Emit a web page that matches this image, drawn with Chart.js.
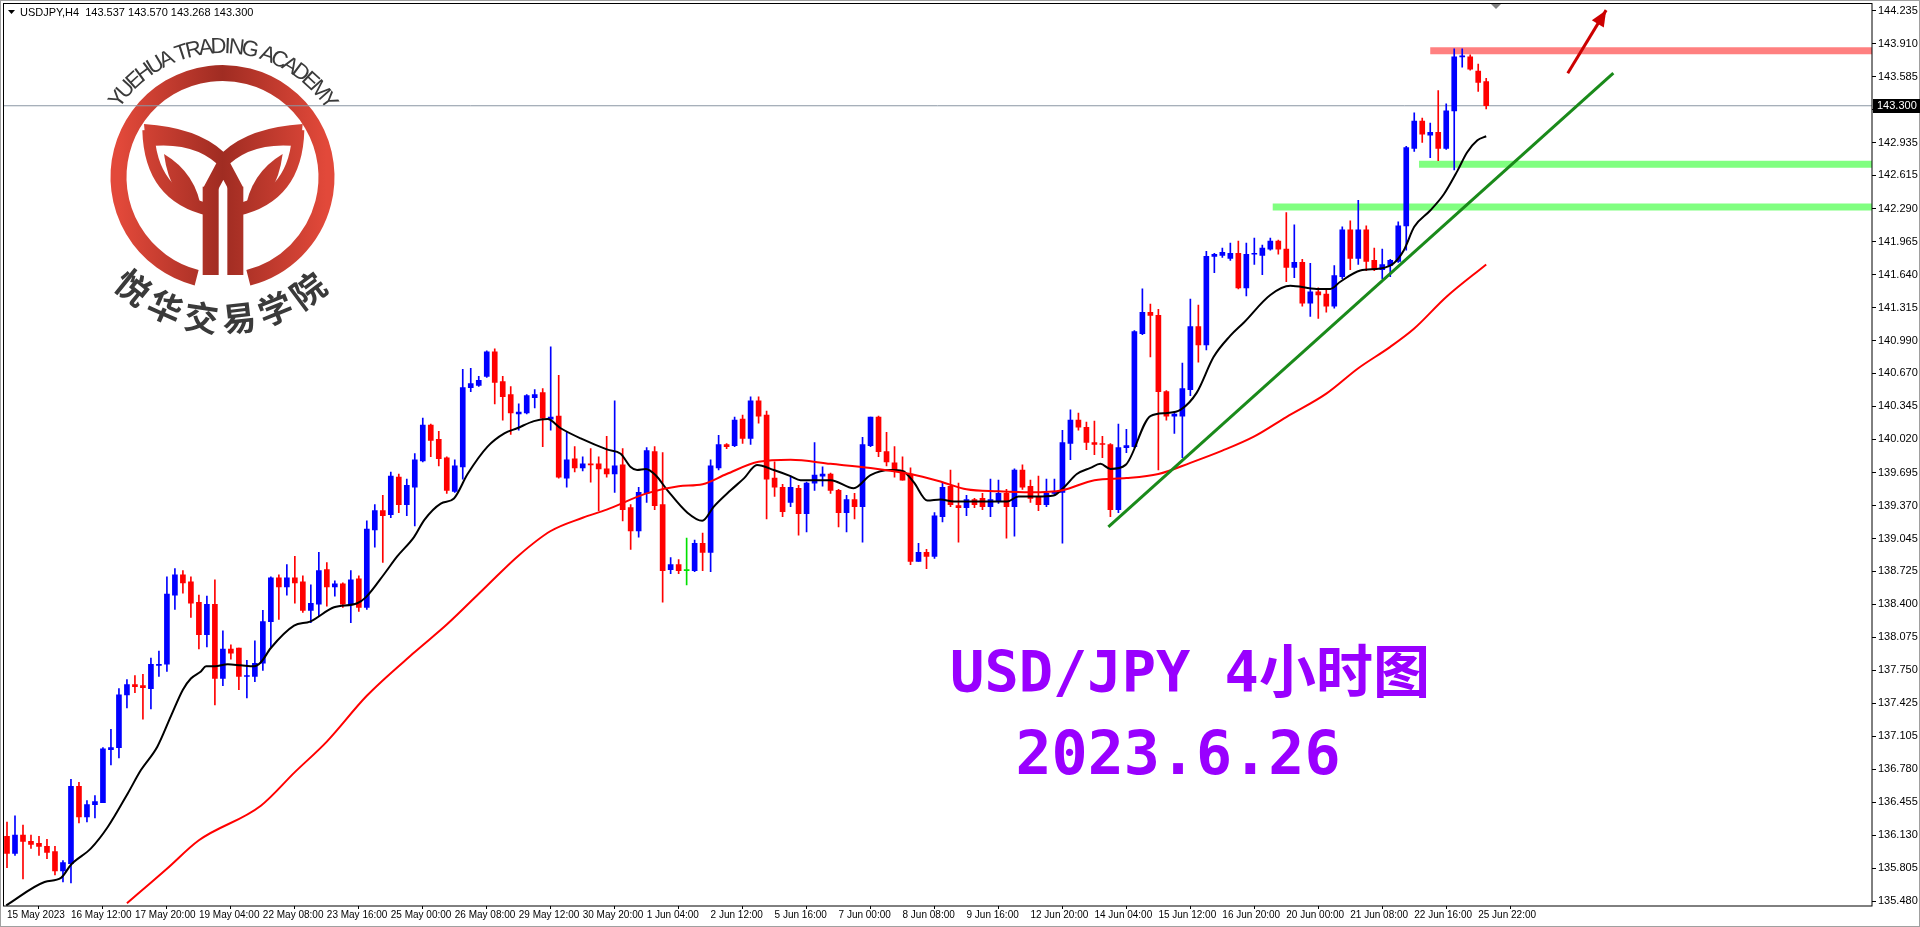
<!DOCTYPE html>
<html><head><meta charset="utf-8">
<script src="https://cdn.jsdelivr.net/npm/chart.js@4.4.0/dist/chart.umd.min.js"></script>
<style>html,body{margin:0;padding:0;background:#fff;overflow:hidden}canvas{display:block}</style>
</head><body>
<canvas id="c" width="1920" height="927" style="width:1920px;height:927px"></canvas>
<script>
// ---- DATA ----
const opens=[136.12,135.95,136.13,136.07,136.05,136.02,135.97,135.78,135.85,136.61,136.31,136.43,136.45,136.97,136.99,137.51,137.61,137.60,137.57,137.80,137.81,138.49,138.69,138.62,138.42,138.10,138.40,137.67,137.96,137.97,137.69,137.69,137.82,138.23,138.66,138.57,138.66,138.62,138.34,138.40,138.74,138.57,138.60,138.40,138.65,138.37,139.13,139.32,139.28,139.65,139.38,139.55,139.81,140.16,140.02,139.84,139.51,139.75,140.53,140.55,140.64,140.88,140.59,140.46,140.27,140.28,140.43,140.48,140.22,140.25,139.64,139.83,139.74,139.78,139.78,139.73,139.68,139.77,139.35,139.12,139.49,139.90,139.38,138.74,138.79,138.73,138.73,139.00,138.91,139.74,139.97,139.96,140.22,140.03,140.40,140.26,139.64,139.55,139.40,139.54,139.29,139.59,139.66,139.68,139.52,139.30,139.43,139.36,139.96,140.24,139.90,139.79,139.71,139.68,138.82,138.91,138.87,139.26,139.56,139.37,139.35,139.43,139.44,139.36,139.41,139.49,139.36,139.72,139.56,139.46,139.38,139.49,139.50,139.98,140.21,140.14,139.99,139.98,139.97,139.33,139.94,139.95,141.06,141.27,141.24,140.49,140.25,140.25,140.51,141.13,140.95,141.82,141.83,141.80,141.85,141.51,141.84,141.83,141.89,141.97,141.89,141.71,141.76,141.36,141.47,141.45,141.33,141.62,142.08,141.80,142.08,141.78,141.69,141.73,141.77,142.12,142.88,143.15,143.01,143.04,142.88,143.25,143.78,143.78,143.64,143.537];
const highs=[136.26,136.32,136.23,136.13,136.12,136.09,136.02,135.88,136.68,136.65,136.47,136.52,136.99,137.17,137.57,137.66,137.70,137.71,137.87,137.94,138.67,138.75,138.73,138.67,138.49,138.48,138.64,138.14,138.00,137.97,137.85,138.04,138.34,138.67,138.69,138.79,138.87,138.68,138.59,138.91,138.81,138.63,138.61,138.73,138.68,139.22,139.38,139.47,139.70,139.68,139.63,139.88,140.23,140.17,140.10,139.85,139.82,140.71,140.72,140.64,140.89,140.91,140.64,140.54,140.37,140.46,140.51,140.52,140.93,140.65,140.09,139.95,139.85,139.93,139.85,140.05,140.40,139.93,139.38,139.55,139.94,139.95,139.89,138.86,138.84,139.05,139.03,139.10,139.82,140.06,139.98,140.24,140.26,140.44,140.44,140.30,139.80,139.58,139.66,139.57,139.60,139.99,139.75,139.69,139.53,139.47,139.49,140.04,140.24,140.25,140.09,139.95,139.85,139.74,139.00,138.94,139.30,139.60,139.72,139.59,139.47,139.44,139.49,139.63,139.62,139.53,139.73,139.77,139.62,139.66,139.63,139.63,140.11,140.31,140.28,140.19,140.20,140.05,139.98,140.17,140.12,141.09,141.50,141.35,141.30,140.50,140.28,140.77,141.40,141.34,141.87,141.85,141.90,141.95,141.97,141.95,142.00,141.93,142.00,141.98,142.25,142.13,141.79,141.75,141.51,141.49,141.73,142.11,142.17,142.37,142.12,141.90,141.89,141.79,142.16,142.90,143.23,143.18,143.13,143.45,143.32,143.86,143.86,143.80,143.71,143.570];
const lows=[135.81,135.93,135.70,136.00,135.93,135.90,135.74,135.67,135.66,136.25,136.26,136.30,136.45,136.82,136.89,137.38,137.53,137.27,137.37,137.69,137.74,138.35,138.51,138.27,137.96,137.98,137.41,137.60,137.86,137.56,137.48,137.64,137.75,137.98,138.25,138.49,138.41,138.32,138.22,138.28,138.38,138.48,138.37,138.22,138.33,138.35,138.96,138.81,139.25,139.30,139.27,139.17,139.80,139.85,139.76,139.49,139.50,139.63,140.49,140.54,140.63,140.37,140.21,140.07,140.11,140.27,140.33,139.95,140.11,139.64,139.55,139.70,139.71,139.60,139.32,139.65,139.50,139.22,138.94,139.06,139.40,139.33,138.42,138.70,138.70,138.59,138.72,138.73,138.72,139.72,139.93,139.95,139.98,139.97,140.18,139.24,139.46,139.26,139.36,139.08,139.11,139.52,139.56,139.49,139.16,139.11,139.24,139.01,139.95,139.85,139.76,139.65,139.62,138.79,138.82,138.75,138.85,139.21,139.36,139.01,139.27,139.35,139.33,139.26,139.39,139.05,139.07,139.53,139.40,139.32,139.36,139.48,139.00,139.82,140.11,139.92,139.87,139.84,139.26,139.30,139.89,139.94,141.05,140.83,139.72,140.21,140.08,139.84,140.45,140.78,140.90,141.66,141.81,141.78,141.50,141.43,141.74,141.64,141.88,141.84,141.57,141.61,141.33,141.23,141.21,141.27,141.31,141.60,141.69,141.74,141.68,141.68,141.60,141.62,141.76,141.88,142.85,142.94,142.79,142.76,142.87,142.67,143.68,143.65,143.44,143.268];
const closes=[135.95,136.13,136.07,136.04,136.02,135.96,135.78,135.86,136.61,136.31,136.43,136.46,136.98,136.99,137.51,137.61,137.59,137.58,137.81,137.81,138.50,138.69,138.61,138.41,138.10,138.40,137.67,137.96,137.92,137.69,137.70,137.82,138.23,138.66,138.57,138.66,138.61,138.34,138.41,138.73,138.57,138.60,138.40,138.64,138.37,139.14,139.32,139.27,139.66,139.38,139.57,139.82,140.16,140.01,139.83,139.52,139.76,140.53,140.57,140.60,140.88,140.58,140.44,140.28,140.29,140.45,140.46,140.23,140.24,139.65,139.82,139.74,139.78,139.77,139.73,139.68,139.76,139.33,139.12,139.50,139.91,139.37,138.73,138.79,138.73,138.73,139.00,138.91,139.76,139.97,139.95,140.21,140.03,140.40,140.25,139.63,139.55,139.31,139.55,139.29,139.59,139.67,139.68,139.52,139.30,139.43,139.36,139.97,140.24,139.90,139.80,139.71,139.62,138.82,138.91,138.87,139.27,139.55,139.38,139.35,139.43,139.38,139.36,139.43,139.49,139.36,139.72,139.55,139.44,139.38,139.49,139.51,139.99,140.21,140.14,139.99,139.97,139.97,139.33,139.94,139.96,141.08,141.27,141.24,140.49,140.25,140.27,140.52,141.13,140.95,141.82,141.84,141.86,141.85,141.51,141.84,141.85,141.90,141.97,141.89,141.71,141.76,141.36,141.47,141.44,141.33,141.63,142.08,141.80,142.08,141.77,141.69,141.74,141.78,142.12,142.89,143.15,143.02,143.04,142.88,143.25,143.78,143.79,143.66,143.53,143.300];
// fast MA (black): [bar, price]
const fastMA=[[-0.1,135.44],[4.7,135.67],[6.75,135.71],[8,135.84],[10.5,136.00],[12.6,136.21],[15.1,136.54],[16.75,136.77],[18.8,137.00],[20.5,137.30],[22,137.56],[23,137.67],[24.25,137.74],[24.9,137.79],[26,137.79],[27.6,137.81],[29.25,137.80],[30.9,137.79],[31.75,137.83],[33,137.97],[35.9,138.19],[37.9,138.23],[40.9,138.37],[43.8,138.41],[44.9,138.47],[47.2,138.70],[48.8,138.87],[50.9,139.06],[52.2,139.23],[54.25,139.39],[55.9,139.44],[57.6,139.68],[60.1,139.95],[62.2,140.08],[63.8,140.13],[65.9,140.20],[67.6,140.22],[69.25,140.13],[71.75,140.03],[75.1,139.92],[76.75,139.88],[78,139.75],[78.8,139.72],[79.9,139.73],[81.1,139.67],[82.6,139.52],[85.1,139.30],[86.95,139.22],[88.4,139.36],[90.5,139.52],[92.2,139.64],[93.8,139.77],[95.9,139.72],[98,139.66],[99.25,139.62],[101.3,139.62],[103,139.62],[105.9,139.54],[108,139.67],[110.5,139.72],[112,139.71],[113.4,139.60],[115.1,139.42],[116.75,139.43],[118.4,139.41],[120.5,139.41],[125.1,139.41],[126.5,139.46],[128.8,139.46],[130.9,139.47],[132.2,139.55],[133.8,139.68],[135.5,139.74],[136.75,139.78],[138,139.73],[139.9,139.77],[143,140.25],[145.1,140.28],[146.75,140.31],[148.8,140.48],[150.9,140.83],[153,141.04],[154.7,141.17],[158,141.44],[160.5,141.53],[163.8,141.50],[165.5,141.50],[166.75,141.57],[169.25,141.68],[171.75,141.70],[173.4,141.75],[174.7,141.88],[176,142.11],[178,142.27],[179.7,142.43],[181.4,142.66],[182.6,142.84],[183.9,142.96],[185,143.00]];
// slow MA (red)
const slowMA=[[15,135.46],[20,135.80],[24,136.08],[31.75,136.42],[36,136.75],[40,137.05],[45,137.50],[51,137.93],[55,138.20],[60,138.58],[64,138.88],[68,139.12],[72,139.25],[75,139.33],[80,139.49],[84,139.56],[87,139.58],[90,139.68],[94,139.80],[98,139.82],[103,139.78],[108,139.74],[113,139.68],[117,139.60],[120,139.53],[124,139.51],[128,139.50],[132,139.52],[136,139.62],[140,139.64],[144,139.68],[148,139.79],[152,139.91],[156,140.05],[160,140.24],[165,140.47],[169,140.72],[173,140.93],[176,141.11],[180,141.42],[185,141.74]];
const yTicks=[144.235,143.910,143.585,143.260,142.935,142.615,142.290,141.965,141.640,141.315,140.990,140.670,140.345,140.020,139.695,139.370,139.045,138.725,138.400,138.075,137.750,137.425,137.105,136.780,136.455,136.130,135.805,135.480];
const xTickBars=[0,8,16,24,32,40,48,56,64,72,80,88,96,104,112,120,128,136,144,152,160,168,176,184];
const xTickLabels=["15 May 2023","16 May 12:00","17 May 20:00","19 May 04:00","22 May 08:00","23 May 16:00","25 May 00:00","26 May 08:00","29 May 12:00","30 May 20:00","1 Jun 04:00","2 Jun 12:00","5 Jun 16:00","7 Jun 00:00","8 Jun 08:00","9 Jun 16:00","12 Jun 20:00","14 Jun 04:00","15 Jun 12:00","16 Jun 20:00","20 Jun 00:00","21 Jun 08:00","22 Jun 16:00","25 Jun 22:00"];
const resistanceLine=[[178,143.84],[233.25,143.84]];
const supportLine1=[[176.6,142.725],[233.25,142.725]];
const supportLine2=[[158.3,142.305],[233.25,142.305]];
const trendLine=[[137.75,139.16],[200.9,143.62]];
const arrowLine=[[195.2,143.62],[200.0,144.24]];
const lastPrice=143.300;
const headerText="USDJPY,H4  143.537 143.570 143.268 143.300";
const title1="USD/JPY 4小时图";
const title2="2023.6.26";

// ---- BUILD ----
const bars=closes.map((c,i)=>i);
const candleColor=bars.map(i=>closes[i]>opens[i]?'#0000ff':(closes[i]<opens[i]?'#ff0000':'#00e000'));
const XMIN=-0.5, XMAX=233.25;
const pts=a=>a.map(p=>({x:p[0],y:p[1]}));

const overlay={
  id:'overlay',
  beforeDatasetsDraw(chart){
    const c=chart.ctx;
    const Z=(zx,zy)=>[90+zx/3,30+zy/3];
    const cx=222.5,cy=177,R=104;
    c.save();
    const g=c.createLinearGradient(cx-R,0,cx+R,0);
    g.addColorStop(0,'#e2493a');g.addColorStop(0.5,'#a02c22');g.addColorStop(1,'#e2493a');
    c.strokeStyle=g;c.fillStyle=g;
    c.lineWidth=16;
    c.beginPath();c.arc(cx,cy,R,Math.PI*0.58,Math.PI*2.42);c.stroke();
    c.lineCap='butt';c.lineJoin='round';
    const P=(zx,zy)=>Z(zx,zy);
    c.beginPath();
    let a=P(162,282);c.moveTo(a[0],a[1]);
    let b=P(320,292),d=P(400,365);c.quadraticCurveTo(b[0],b[1],d[0],d[1]);
    b=P(480,292);d=P(638,282);c.quadraticCurveTo(b[0],b[1],d[0],d[1]);
    d=P(632,350);c.lineTo(d[0],d[1]);
    b=P(480,330);d=P(400,420);c.quadraticCurveTo(b[0],b[1],d[0],d[1]);
    b=P(320,330);d=P(168,350);c.quadraticCurveTo(b[0],b[1],d[0],d[1]);
    c.closePath();c.fill();
    c.lineWidth=12;
    c.beginPath();a=P(175,300);c.moveTo(a[0],a[1]);b=P(180,500);d=P(360,540);c.quadraticCurveTo(b[0],b[1],d[0],d[1]);c.stroke();
    c.beginPath();a=P(625,300);c.moveTo(a[0],a[1]);b=P(620,500);d=P(440,540);c.quadraticCurveTo(b[0],b[1],d[0],d[1]);c.stroke();
    a=P(338,470);c.fillRect(a[0],a[1],16,(735-470)/3);
    a=P(412,470);c.fillRect(a[0],a[1],16,(735-470)/3);
    c.lineWidth=14;
    c.beginPath();a=P(360,480);c.moveTo(a[0],a[1]);d=P(400,405);c.lineTo(d[0],d[1]);d=P(440,480);c.lineTo(d[0],d[1]);c.stroke();
    c.beginPath();a=P(222,372);c.moveTo(a[0],a[1]);b=P(240,510);d=P(335,545);c.quadraticCurveTo(b[0],b[1],d[0],d[1]);b=P(320,430);d=P(222,372);c.quadraticCurveTo(b[0],b[1],d[0],d[1]);c.fill();
    c.beginPath();a=P(578,372);c.moveTo(a[0],a[1]);b=P(560,510);d=P(465,545);c.quadraticCurveTo(b[0],b[1],d[0],d[1]);b=P(480,430);d=P(578,372);c.quadraticCurveTo(b[0],b[1],d[0],d[1]);c.fill();
    c.fillStyle='#3a3a3a';
    c.font='22px "Liberation Sans", Arial, sans-serif';
    c.textAlign='center';c.textBaseline='middle';
    const txt="YUEHUA TRADING ACADEMY";
    const ws=[...txt].map(ch=>c.measureText(ch).width);
    const tot=ws.reduce((s,v)=>s+v,0);
    const a0=-146*Math.PI/180,a1=-33*Math.PI/180;
    let acc=0;
    [...txt].forEach((ch,i)=>{
      const ang=a0+(a1-a0)*(acc+ws[i]/2)/tot; acc+=ws[i];
      c.save();c.translate(cx+130*Math.cos(ang),cy+130*Math.sin(ang));c.rotate(ang+Math.PI/2);c.fillText(ch,0,0);c.restore();
    });
    c.font='bold 34px "Noto Sans CJK SC", sans-serif';
    const cn=[..."悦华交易学院"];
    cn.forEach((ch,i)=>{
      const ang=(129-i*15.2)*Math.PI/180;
      c.save();c.translate(cx+142*Math.cos(ang),cy+142*Math.sin(ang));c.rotate(ang-Math.PI/2);c.fillText(ch,0,0);c.restore();
    });
    c.restore();
  },
  afterDraw(chart){
    const c=chart.ctx, xs=chart.scales.x, ys=chart.scales.y;
    c.save();
    c.strokeStyle='#a0a0a0';c.lineWidth=1;c.strokeRect(0.5,0.5,1919,926);
    c.strokeStyle='#000';c.strokeRect(3.5,3.5,1868.5,902.5);
    c.fillStyle='#000';
    c.beginPath();c.moveTo(8,10);c.lineTo(15,10);c.lineTo(11.5,14);c.closePath();c.fill();
    c.font='11px "Liberation Sans", Arial, sans-serif';c.textBaseline='middle';c.textAlign='left';
    c.fillText(headerText,20,13);
    c.fillStyle='#808080';
    c.beginPath();c.moveTo(1491,4);c.lineTo(1501,4);c.lineTo(1496,9);c.closePath();c.fill();
    const p0=[xs.getPixelForValue(arrowLine[0][0]),ys.getPixelForValue(arrowLine[0][1])];
    const p1=[xs.getPixelForValue(arrowLine[1][0]),ys.getPixelForValue(arrowLine[1][1])];
    const ang=Math.atan2(p1[1]-p0[1],p1[0]-p0[0]);
    c.fillStyle='#cc0000';
    c.beginPath();c.moveTo(p1[0],p1[1]);
    c.lineTo(p1[0]-16*Math.cos(ang)+7*Math.sin(ang),p1[1]-16*Math.sin(ang)-7*Math.cos(ang));
    c.lineTo(p1[0]-16*Math.cos(ang)-7*Math.sin(ang),p1[1]-16*Math.sin(ang)+7*Math.cos(ang));
    c.closePath();c.fill();
    c.fillStyle='#9900ff';c.textAlign='center';c.textBaseline='alphabetic';
    c.font='bold 57px "DejaVu Sans Mono", "Noto Sans CJK SC", monospace';
    c.fillText(title1,1190,692);
    c.font='bold 60px "DejaVu Sans Mono", monospace';
    c.fillText(title2,1178,774);
    const yp=Math.round(ys.getPixelForValue(lastPrice));
    c.fillStyle='#000';c.fillRect(1873,yp-7,60,14);
    c.fillStyle='#fff';c.font='11px "Liberation Sans", Arial, sans-serif';c.textAlign='left';c.textBaseline='middle';
    c.fillText(lastPrice.toFixed(3),1877,yp);
    c.restore();
  }
};

const lineDs=(data,color,width,extra)=>Object.assign({type:'line',data:pts(data),borderColor:color,borderWidth:width,pointRadius:0,fill:false,order:1},extra||{});

new Chart(document.getElementById('c'),{
  type:'bar',
  data:{datasets:[
    {type:'line',data:[{x:XMIN,y:lastPrice},{x:XMAX,y:lastPrice}],borderColor:'#8a96a3',borderWidth:1,pointRadius:0,order:5},
    lineDs(resistanceLine,'#ff8080',7,{order:4}),
    lineDs(supportLine1,'#80ff80',7,{order:4}),
    lineDs(supportLine2,'#80ff80',7,{order:4}),
    {type:'bar',data:bars.map(i=>({x:i,y:[lows[i],highs[i]]})),backgroundColor:candleColor,barThickness:1,grouped:false,order:3},
    {type:'bar',data:bars.map(i=>({x:i,y:[opens[i],closes[i]]})),backgroundColor:candleColor,barThickness:5,minBarLength:1,grouped:false,order:2},
    lineDs(slowMA,'#ff0000',2,{cubicInterpolationMode:'monotone'}),
    lineDs(fastMA,'#000000',2,{cubicInterpolationMode:'monotone'}),
    lineDs(trendLine,'#1a8a1a',3,{order:0}),
    lineDs(arrowLine,'#cc0000',3,{order:0})
  ]},
  options:{
    responsive:false,animation:false,devicePixelRatio:1,
    layout:{padding:{left:3,top:8,right:0,bottom:0}},
    plugins:{legend:{display:false},tooltip:{enabled:false}},
    scales:{
      x:{type:'linear',min:XMIN,max:XMAX,offset:false,
        grid:{drawOnChartArea:false,drawTicks:true,tickLength:3,color:'#000'},
        border:{display:false},
        afterBuildTicks:s=>{s.ticks=xTickBars.map(v=>({value:v}));},
        afterFit:s=>{s.height=21;},
        ticks:{autoSkip:false,maxRotation:0,align:'start',padding:0,color:'#000',font:{family:'"Liberation Sans", Arial, sans-serif',size:10},
          callback:(v)=>{const k=xTickBars.indexOf(v);return k>=0?xTickLabels[k]:'';}}},
      y:{type:'linear',position:'right',min:135.434,max:144.255,
        grid:{drawOnChartArea:false,drawTicks:true,tickLength:4,color:'#000'},
        border:{display:false},
        afterBuildTicks:s=>{s.ticks=yTicks.map(v=>({value:v}));},
        afterFit:s=>{s.width=48;},
        ticks:{padding:2,color:'#000',font:{family:'"Liberation Sans", Arial, sans-serif',size:11},callback:v=>v.toFixed(3)}}
    }
  },
  plugins:[overlay]
});
</script>
</body></html>
